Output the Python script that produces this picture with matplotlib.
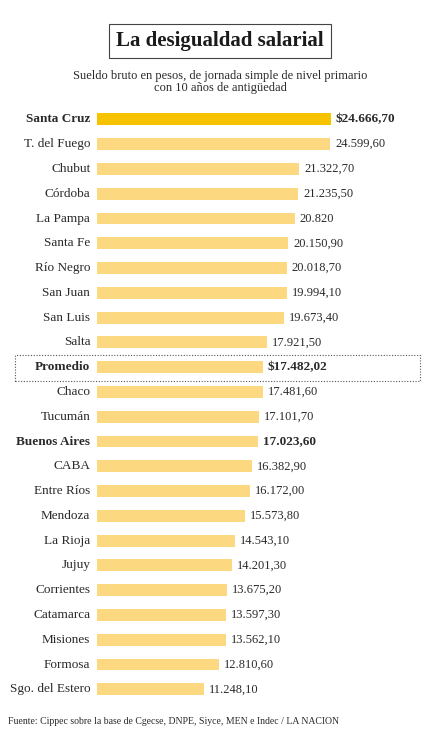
import matplotlib
matplotlib.use("Agg")
import matplotlib.pyplot as plt
from matplotlib.patches import Rectangle

provinces = ["Santa Cruz","T. del Fuego","Chubut","Córdoba","La Pampa","Santa Fe","Río Negro",
             "San Juan","San Luis","Salta","Promedio","Chaco","Tucumán","Buenos Aires","CABA",
             "Entre Ríos","Mendoza","La Rioja","Jujuy","Corrientes","Catamarca","Misiones",
             "Formosa","Sgo. del Estero"]
values = [24666.70,24599.60,21322.70,21235.50,20820,20150.90,20018.70,19994.10,19673.40,17921.50,
          17482.02,17481.60,17101.70,17023.60,16382.90,16172.00,15573.80,14543.10,14201.30,
          13675.20,13597.30,13562.10,12810.60,11248.10]
labels = ["$24.666,70","24.599,60","21.322,70","21.235,50","20.820","20.150,90","20.018,70",
          "19.994,10","19.673,40","17.921,50","$17.482,02","17.481,60","17.101,70","17.023,60",
          "16.382,90","16.172,00","15.573,80","14.543,10","14.201,30","13.675,20","13.597,30",
          "13.562,10","12.810,60","11.248,10"]
bold = {"Santa Cruz","Promedio","Buenos Aires"}

W, H = 440, 735
fig = plt.figure(figsize=(W/100, H/100), dpi=100)
fig.patch.set_facecolor("white")
font = "Liberation Serif"
tc = "#2a2a2a"

top, rowh = 107, 24.78
ax = fig.add_axes([97/W, 1-(top+24*rowh)/H, 333/W, 24*rowh/H])
xmax = 24666.7*333/234
ax.set_xlim(0, xmax)
ax.set_ylim(23.5, -0.5)
ax.axis("off")
for i, (p, v, l) in enumerate(zip(provinces, values, labels)):
    col = "#F7C300" if i == 0 else "#FCD981"
    ax.barh(i, v, height=0.48, color=col)
    b = p in bold
    ax.text(-0.02*xmax, i, p, ha="right", va="center", fontsize=9.5, family=font,
            fontweight="bold" if b else "normal", color=tc)
    ax.text(v + 0.015*xmax, i, l, ha="left", va="center", fontsize=9.5 if b else 9, family=font,
            fontweight="bold" if b else "normal", color=tc)

fig.patches.append(Rectangle((15/W, 1-381/H), 405/W, 26/H, transform=fig.transFigure,
                             fill=False, ls=(0, (1, 1.5)), lw=0.8, ec="#555"))
fig.text(220/W, 1-41/H, "La desigualdad salarial", ha="center", va="center", fontsize=15,
         fontweight="bold", family=font, color="#1a1a1a",
         bbox=dict(boxstyle="square,pad=0.35", fc="white", ec="#444", lw=0.8))
fig.text(220/W, 1-82/H, "Sueldo bruto en pesos, de jornada simple de nivel primario\ncon 10 años de antigüedad",
         ha="center", va="center", fontsize=9, family=font, color=tc, linespacing=1.0)
fig.text(8/W, 1-722/H, "Fuente: Cippec sobre la base de Cgecse, DNPE, Siyce, MEN e Indec / LA NACION",
         ha="left", va="center", fontsize=7, family=font, color=tc)
fig.savefig("out.png", dpi=100)
